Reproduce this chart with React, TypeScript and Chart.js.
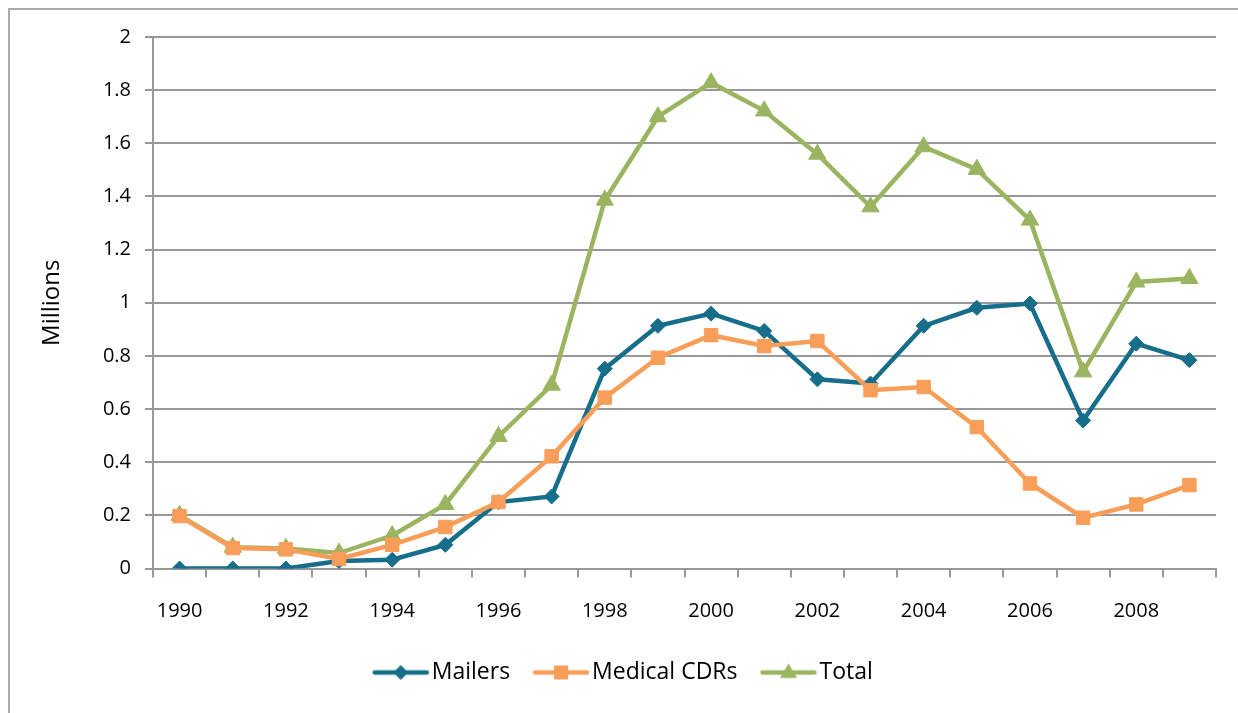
import React, { useEffect, useRef } from "react";
import { Chart, registerables } from "chart.js";

Chart.register(...registerables);

const years = [
  "1990", "1991", "1992", "1993", "1994", "1995", "1996", "1997", "1998", "1999",
  "2000", "2001", "2002", "2003", "2004", "2005", "2006", "2007", "2008", "2009",
];
const mailers = [
  0, 0, 0, 0.028, 0.033, 0.089, 0.25, 0.271, 0.752, 0.913,
  0.959, 0.894, 0.712, 0.696, 0.913, 0.981, 0.997, 0.557, 0.846, 0.784,
];
const medicalCDRs = [
  0.197, 0.077, 0.072, 0.036, 0.089, 0.156, 0.25, 0.422, 0.643, 0.793,
  0.878, 0.837, 0.856, 0.671, 0.683, 0.532, 0.32, 0.191, 0.241, 0.314,
];
const total = [
  0.2, 0.08, 0.075, 0.058, 0.124, 0.241, 0.497, 0.69, 1.386, 1.7,
  1.828, 1.722, 1.559, 1.361, 1.587, 1.502, 1.311, 0.74, 1.078, 1.091,
];
const seriesNames = ["Mailers", "Medical CDRs", "Total"];
const yTicks = { min: 0, max: 2, step: 0.2 };

const TEAL = "#166e8a";
const ORANGE = "#f99e58";
const GREEN = "#9bb460";
const GRID = "#98989c";
const FONT = "'Open Sans', sans-serif";

function legendIcon(color: string, shape: string): HTMLCanvasElement {
  const c = document.createElement("canvas");
  c.width = 58;
  c.height = 24;
  const ctx = c.getContext("2d")!;
  ctx.strokeStyle = color;
  ctx.fillStyle = color;
  ctx.lineWidth = 4.5;
  ctx.lineCap = "round";
  ctx.beginPath();
  ctx.moveTo(3, 12);
  ctx.lineTo(55, 12);
  ctx.stroke();
  ctx.beginPath();
  if (shape === "diamond") {
    ctx.moveTo(29 - 7.5, 12);
    ctx.lineTo(29, 12 - 7.5);
    ctx.lineTo(29 + 7.5, 12);
    ctx.lineTo(29, 12 + 7.5);
  } else if (shape === "square") {
    ctx.rect(29 - 7, 12 - 7, 14, 14);
  } else {
    ctx.moveTo(29, 12 - 9);
    ctx.lineTo(29 + 8.5, 12 + 5.5);
    ctx.lineTo(29 - 8.5, 12 + 5.5);
  }
  ctx.closePath();
  ctx.fill();
  return c;
}

export default function App() {
  const ref = useRef<HTMLCanvasElement | null>(null);

  useEffect(() => {
    if (!ref.current) return;
    const icons = [
      legendIcon(TEAL, "diamond"),
      legendIcon(ORANGE, "square"),
      legendIcon(GREEN, "triangle"),
    ];
    const chart = new Chart(ref.current, {
      type: "line",
      data: {
        labels: years,
        datasets: [
          {
            label: seriesNames[0],
            data: mailers,
            borderColor: TEAL,
            backgroundColor: TEAL,
            borderWidth: 4.5,
            pointStyle: "rectRot",
            pointRadius: 7.5,
            pointBorderWidth: 1,
            tension: 0,
            order: 2,
          },
          {
            label: seriesNames[1],
            data: medicalCDRs,
            borderColor: ORANGE,
            backgroundColor: ORANGE,
            borderWidth: 4.5,
            pointStyle: "rect",
            pointRadius: 9.5,
            pointBorderWidth: 1,
            tension: 0,
            order: 0,
          },
          {
            label: seriesNames[2],
            data: total,
            borderColor: GREEN,
            backgroundColor: GREEN,
            borderWidth: 4.5,
            pointStyle: "triangle",
            pointRadius: 10,
            pointBorderWidth: 1,
            tension: 0,
            order: 1,
          },
        ],
      },
      options: {
        responsive: true,
        maintainAspectRatio: false,
        animation: false,
        events: [],
        layout: { padding: { left: 38, right: 22, top: 37, bottom: 19 } },
        plugins: {
          tooltip: { enabled: false },
          legend: {
            position: "bottom",
            labels: {
              usePointStyle: true,
              pointStyleWidth: 39,
              padding: 31.5,
              color: "#000",
              font: { family: FONT, size: 23 },
              generateLabels: (ch: any) =>
                ch.data.datasets.map((ds: any, i: number) => ({
                  text: ds.label,
                  pointStyle: icons[i],
                  fillStyle: ds.borderColor,
                  strokeStyle: ds.borderColor,
                  lineWidth: 0,
                  hidden: false,
                  datasetIndex: i,
                  fontColor: "#000",
                })),
            },
          },
        },
        scales: {
          x: {
            type: "category",
            offset: true,
            afterFit: (s: any) => {
              s.height = 61;
            },
            grid: {
              offset: true,
              drawOnChartArea: false,
              drawTicks: true,
              tickLength: 9,
              color: GRID,
              lineWidth: 2,
            },
            border: { display: true, color: GRID, width: 2 },
            ticks: {
              autoSkip: false,
              maxRotation: 0,
              padding: 22,
              color: "#000",
              font: { family: FONT, size: 20 },
              callback: (_v: any, i: number) => (i % 2 === 0 ? years[i] : ""),
            },
          },
          y: {
            min: yTicks.min,
            max: yTicks.max,
            afterFit: (s: any) => {
              s.width = 115;
            },
            title: {
              display: true,
              text: "Millions",
              color: "#000",
              font: { family: FONT, size: 24 },
              padding: { top: 0, bottom: 0 },
            },
            grid: { color: GRID, lineWidth: 2, tickLength: 8 },
            border: { display: true, color: GRID, width: 2 },
            ticks: {
              stepSize: yTicks.step,
              padding: 14,
              color: "#000",
              font: { family: FONT, size: 20 },
              callback: (v: any) => Number(v).toFixed(1).replace(/\.0$/, ""),
            },
          },
        },
      },
    });
    return () => chart.destroy();
  }, []);

  return (
    <div style={{ position: "fixed", left: 0, top: 0, width: 1238, height: 713, overflow: "hidden", background: "#fff" }}>
      <div
        style={{
          position: "absolute",
          left: 8,
          top: 8,
          width: 1400,
          height: 900,
          borderTop: "2px solid #aaaaaa",
          borderLeft: "2px solid #aaaaaa",
        }}
      />
      <div style={{ position: "absolute", left: 0, top: 0, width: 1238, height: 713 }}>
        <canvas ref={ref} />
      </div>
    </div>
  );
}
